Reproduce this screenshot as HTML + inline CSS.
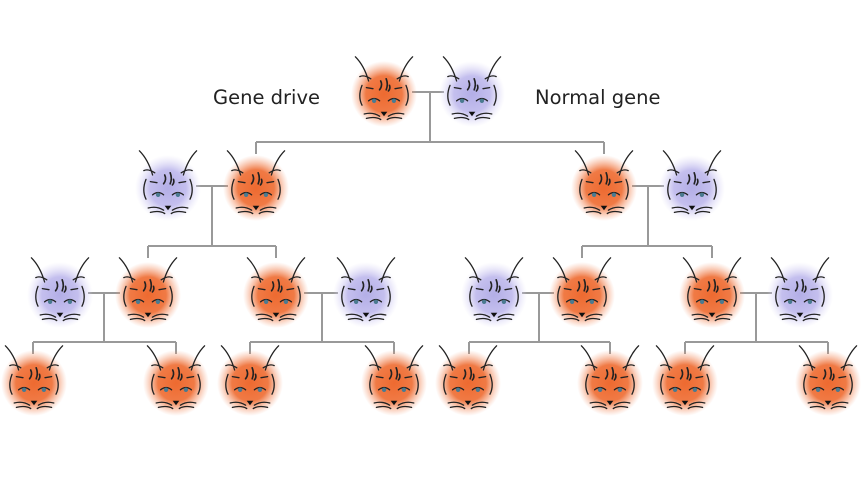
<!DOCTYPE html>
<html><head><meta charset="utf-8"><style>
html,body{margin:0;padding:0;background:#fff;}
svg{display:block;}
text{font-family:"DejaVu Sans","Liberation Sans",sans-serif;font-size:19.5px;fill:#222;}
</style></head><body>
<svg width="862" height="485" viewBox="0 0 862 485" xmlns="http://www.w3.org/2000/svg">
<defs>
<radialGradient id="go"><stop offset="0" stop-color="#ee6a30"/><stop offset="0.55" stop-color="#f07a45"/><stop offset="1" stop-color="#f5a07a" stop-opacity="0"/></radialGradient>
<radialGradient id="gp"><stop offset="0" stop-color="#b3aee6"/><stop offset="0.55" stop-color="#c4bfee"/><stop offset="1" stop-color="#dcd8f6" stop-opacity="0"/></radialGradient>
<g id="face" fill="none" stroke="#222" stroke-width="1.2" stroke-linecap="round" transform="scale(1.1)">
<path d="M-26,-32 Q-18,-24 -14,-10 M-12,-12 Q-18,-16 -22,-14 M26,-32 Q18,-24 14,-10 M12,-12 Q18,-16 22,-14"/>
<path d="M-20,-6 Q-24,4 -20,12 M20,-6 Q24,4 20,12 M-16,-4 L-10,-3 M16,-4 L10,-3"/>
<path d="M-3,-10 q2,4 -1,8 M2,-12 q2,5 0,10 M5,-6 q1,3 -1,5" stroke-width="1.5"/>
<path d="M-14,8 Q-9,4 -4,8 M14,8 Q9,4 4,8"/>
<path d="M-18,20 Q-10,18 -4,22 M18,20 Q10,18 4,22 M-16,24 Q-8,22 -3,25 M16,24 Q8,22 3,25"/>
<circle cx="-9" cy="8" r="2" fill="#4a7a90" stroke="none"/>
<circle cx="9" cy="8" r="2" fill="#4a7a90" stroke="none"/>
<path d="M-3,18 L3,18 L0,22 Z" fill="#111" stroke="none"/>
</g>
<g id="co"><circle r="33" cy="2" fill="url(#go)"/><use href="#face"/></g>
<g id="cp"><circle r="33" cy="2" fill="url(#gp)"/><use href="#face"/></g>
</defs>
<g stroke="#999" stroke-width="2" fill="none">
<path d="M412,92 H444 M430,92 V142 M256,142 H604 M256,142 V154 M604,142 V154"/>
<path d="M196,186 H228 M212,186 V246 M148,246 H276 M148,246 V258 M276,246 V258"/>
<path d="M632,186 H664 M648,186 V246 M582,246 H712 M582,246 V258 M712,246 V258"/>
<path d="M88,293 H120 M104,293 V342 M33,342 H176 M33,342 V354 M176,342 V354"/>
<path d="M304,293 H338 M322,293 V342 M250,342 H394 M250,342 V354 M394,342 V354"/>
<path d="M522,293 H554 M539,293 V342 M469,342 H610 M469,342 V354 M610,342 V354"/>
<path d="M740,293 H772 M756,293 V342 M685,342 H828 M685,342 V354 M828,342 V354"/>
</g>
<use href="#co" x="384" y="92"/><use href="#cp" x="472" y="92"/>
<use href="#cp" x="168" y="186"/><use href="#co" x="256" y="186"/>
<use href="#co" x="604" y="186"/><use href="#cp" x="692" y="186"/>
<use href="#cp" x="60" y="293"/><use href="#co" x="148" y="293"/>
<use href="#co" x="276" y="293"/><use href="#cp" x="366" y="293"/>
<use href="#cp" x="494" y="293"/><use href="#co" x="582" y="293"/>
<use href="#co" x="712" y="293"/><use href="#cp" x="800" y="293"/>
<use href="#co" x="34" y="381"/><use href="#co" x="176" y="381"/>
<use href="#co" x="250" y="381"/><use href="#co" x="394" y="381"/>
<use href="#co" x="468" y="381"/><use href="#co" x="610" y="381"/>
<use href="#co" x="685" y="381"/><use href="#co" x="828" y="381"/>
<text x="213" y="104">Gene drive</text>
<text x="535" y="104">Normal gene</text>
</svg>
</body></html>
